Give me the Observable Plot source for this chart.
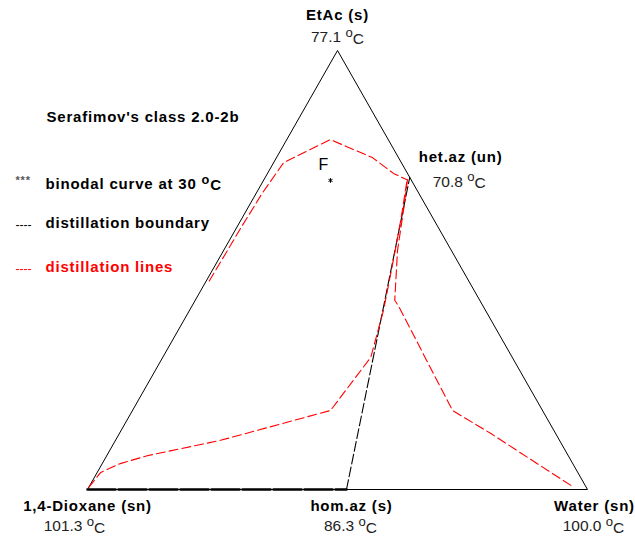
<!DOCTYPE html>
<html><head><meta charset="utf-8">
<script src="https://cdn.jsdelivr.net/npm/d3@7"></script>
<script src="https://cdn.jsdelivr.net/npm/@observablehq/plot@0.6"></script>
<style>
body{margin:0;background:#fff}
svg{font-family:"Liberation Sans",Arial,sans-serif}
</style>
</head><body><div id="chart"></div>
<script>
// Compositions as [EtAc mole fraction, Water mole fraction]; 1,4-Dioxane = 1 - EtAc - Water
const triangle = [[0,0],[0,1],[1,0],[0,0]];
const vertexNames = ["1,4-Dioxane (sn)", "EtAc (s)", "Water (sn)"];
const vertexTemps = ["101.3 °C", "77.1 °C", "100.0 °C"];
const vertexComp = [[0,0],[1,0],[0,1]];
const azeoNames = ["het.az (un)", "hom.az (s)"];
const azeoTemps = ["70.8 °C", "86.3 °C"];
const azeoComp = [[0.711,0.289],[0,0.518]];
const boundaryLine = [[0,0.518],[0.711,0.289]];
const boundaryBase = [[0,0],[0,0.518]];
const distLine1 = [[0.475,0.006],[0.601,0.009],[0.674,0.012],[0.745,0.02],[0.797,0.087],[0.756,0.192],[0.720,0.252],[0.706,0.285]];
const distLine2 = [[0.706,0.287],[0.636,0.314],[0.544,0.348],[0.431,0.399],[0.417,0.414],[0.180,0.640],[0.128,0.742],[0.005,0.970]];
const distLine3 = [[0.005,0.0],[0.039,0.007],[0.059,0.036],[0.077,0.081],[0.112,0.210],[0.180,0.396],[0.301,0.416],[0.408,0.388],[0.515,0.353],[0.613,0.320],[0.704,0.287]];
const feedPoint = [[0.704,0.134]];
const legendTitle = "Serafimov's class 2.0-2b";
const legendLabels = ["binodal curve at 30 °C", "distillation boundary", "distillation lines"];
const legendSymbols = ["***", "----", "----"];

const X = d => d[1] + d[0]/2;
const Y = d => d[0];
const vertices = vertexNames.map((n,i)=>({name:n,temp:vertexTemps[i],c:vertexComp[i]}));
const azeos = azeoNames.map((n,i)=>({name:n,temp:azeoTemps[i],c:azeoComp[i]}));
const bold = {fontWeight:"bold", fontSize:15, fill:"#000", lineAnchor:"middle"};
const tmp = {fontSize:15.5, fill:"#222", lineAnchor:"middle"};
const lg = {frameAnchor:"top-left", textAnchor:"start", lineAnchor:"middle"};

const marks = [
  Plot.line(triangle, {x:X, y:Y, stroke:"#000", strokeWidth:1}),
  Plot.line(boundaryBase, {x:X, y:Y, stroke:"#000", strokeWidth:2.6, strokeDasharray:"28,3"}),
  Plot.line(boundaryLine, {x:X, y:Y, stroke:"#000", strokeWidth:1.1, strokeDasharray:"10,3"}),
  ...[distLine1, distLine2, distLine3].map(l => Plot.line(l, {x:X, y:Y, stroke:"#ff0000", strokeWidth:1.1, strokeDasharray:"9,4"})),
  Plot.dot(feedPoint, {x:X, y:Y, symbol:"asterisk", r:2.2, stroke:"#000", strokeWidth:1}),
  Plot.text(feedPoint, {x:X, y:Y, text:()=>"F", dx:-7, dy:-16, fontSize:16, fill:"#000"}),
  // vertex labels
  Plot.text([vertices[1]], {x:d=>X(d.c), y:d=>Y(d.c), text:"name", dy:-35, ...bold}),
  Plot.text([vertices[1]], {x:d=>X(d.c), y:d=>Y(d.c), text:"temp", dy:-13, ...tmp}),
  Plot.text([vertices[0]], {x:d=>X(d.c), y:d=>Y(d.c), text:"name", dy:17, ...bold}),
  Plot.text([vertices[0]], {x:d=>X(d.c), y:d=>Y(d.c), text:"temp", dx:-13, dy:37, ...tmp}),
  Plot.text([vertices[2]], {x:d=>X(d.c), y:d=>Y(d.c), text:"name", dx:7, dy:17, ...bold}),
  Plot.text([vertices[2]], {x:d=>X(d.c), y:d=>Y(d.c), text:"temp", dx:6, dy:37, ...tmp}),
  Plot.text([azeos[1]], {x:d=>X(d.c), y:d=>Y(d.c), text:"name", dx:5, dy:17, ...bold}),
  Plot.text([azeos[1]], {x:d=>X(d.c), y:d=>Y(d.c), text:"temp", dx:4, dy:37, ...tmp}),
  Plot.text([azeos[0]], {x:d=>X(d.c), y:d=>Y(d.c), text:"name", dx:9, dy:-20, textAnchor:"start", ...bold}),
  Plot.text([azeos[0]], {x:d=>X(d.c), y:d=>Y(d.c), text:"temp", dx:23, dy:5, textAnchor:"start", ...tmp}),
  // legend
  Plot.text([legendTitle], {...lg, dx:46-87, dy:117-50, ...bold}),
  Plot.text([legendSymbols[0]], {...lg, dx:15-87, dy:180-50, fontSize:11, fill:"#555", fontWeight:"bold"}),
  Plot.text([legendLabels[0]], {...lg, dx:45-87, dy:184-50, ...bold}),
  Plot.text([legendSymbols[1]], {...lg, dx:15-87, dy:225-50, fontSize:12, fill:"#000"}),
  Plot.text([legendLabels[1]], {...lg, dx:45-87, dy:223-50, ...bold}),
  Plot.text([legendSymbols[2]], {...lg, dx:15-87, dy:269-50, fontSize:12, fill:"#ff0000"}),
  Plot.text([legendLabels[2]], {...lg, dx:45-87, dy:267-50, ...bold, fill:"#ff0000"})
];

const chart = Plot.plot({
  width:635, height:537,
  marginLeft:87, marginRight:48, marginTop:50, marginBottom:48,
  x:{domain:[0,1], axis:null},
  y:{domain:[0,1], axis:null},
  style:{background:"#fff", overflow:"visible"},
  marks
});

const sel = d3.select(chart);
// wider letter spacing, like the original bitmap font
sel.selectAll("text").each(function(){
  const el = d3.select(this);
  const w = el.attr("font-weight") || (this.parentNode && d3.select(this.parentNode).attr("font-weight"));
  if (w === "bold") el.attr("letter-spacing", "0.8");
});
// raised "o" for the degree sign, as in the original
sel.selectAll("text").each(function(){
  const t = d3.select(this);
  const s = this.textContent;
  if (s.includes("°")) {
    const [a,b] = s.split("°");
    t.text(a);
    t.append("tspan").attr("dy","-0.45em").attr("font-size","0.85em").text("o");
    t.append("tspan").attr("dy","0.45em").text(b);
  }
});
document.getElementById("chart").appendChild(chart);
</script>
</body></html>
